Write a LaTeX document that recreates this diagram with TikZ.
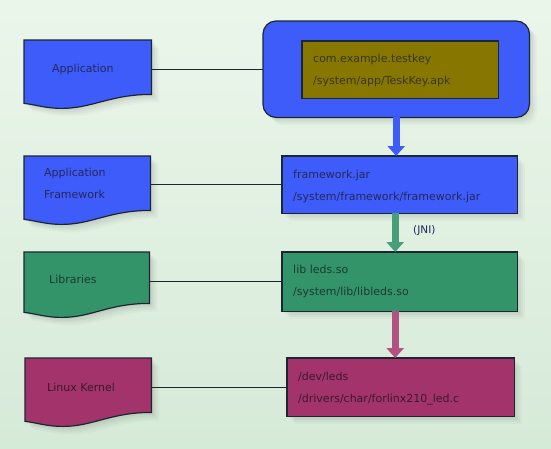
\documentclass[tikz,border=0pt]{standalone}
\usepackage{fontspec}
\setmainfont{DejaVu Sans}
\usetikzlibrary{arrows.meta,calc}
\pgfdeclarelayer{back}
\pgfdeclarelayer{shapes}
\pgfsetlayers{back,shapes,main}
\definecolor{bgA}{HTML}{EBF6EA}
\definecolor{bgB}{HTML}{D6EAD8}
\definecolor{cblue}{HTML}{3D5CFA}
\definecolor{colive}{HTML}{877700}
\definecolor{cgreen}{HTML}{33946A}
\definecolor{cmag}{HTML}{A3336B}
\definecolor{cedge}{HTML}{1C2630}
\definecolor{tblue}{HTML}{26285A}
\definecolor{tolive}{HTML}{3A3520}
\definecolor{tgreen}{HTML}{1E3A2C}
\definecolor{tmag}{HTML}{3A1A2E}
\tikzset{
  geo/.style={rectangle, inner sep=0pt, anchor=north west},
  shad/.style={
    preaction={fill=black, fill opacity=0.035, transform canvas={xshift=2pt, yshift=-2pt}},
    preaction={fill=black, fill opacity=0.035, transform canvas={xshift=4pt, yshift=-4pt}},
    preaction={fill=black, fill opacity=0.03, transform canvas={xshift=6pt, yshift=-6pt}},
    preaction={fill=black, fill opacity=0.025, transform canvas={xshift=8pt, yshift=-8pt}}},
  boxfill/.style={shad, draw=cedge, line width=1.2pt},
  lbl/.style={anchor=west, align=left, inner sep=0pt, font=\fontsize{11}{22}\selectfont},
  link/.style={draw=cedge, line width=1.3pt},
  flow/.style={line width=7pt, -{Triangle[width=17pt,length=10pt]}}
}
\newcommand\docshape[2]{%
  \fill[#2, boxfill] (#1.north west) -- (#1.north east) -- (#1.south east)
    .. controls ($(#1.south east)+(-41,0)$) and ($(#1.south west)+(68,14)$) .. ($(#1.south west)+(38,14)$)
    .. controls ($(#1.south west)+(21,14)$) and ($(#1.south west)+(11,10)$) .. ($(#1.south west)+(0,9)$) -- cycle;}
\begin{document}
\begin{tikzpicture}[x=1pt,y=-1pt]
\begin{pgfonlayer}{back}
\shade[top color=bgA, bottom color=bgB] (0,0) rectangle (551,448);
\end{pgfonlayer}
\useasboundingbox (0,0) rectangle (551,448);

% left document shapes (geometry)
\node[geo, minimum width=127pt, minimum height=54pt] (appdoc) at (24,40) {};
\node[geo, minimum width=126pt, minimum height=54pt] (afdoc) at (24,156) {};
\node[geo, minimum width=125pt, minimum height=51pt] (libdoc) at (24,252) {};
\node[geo, minimum width=126pt, minimum height=54pt] (kdoc) at (25,358) {};

% right boxes
\node[geo, minimum width=266pt, minimum height=96pt] (apprbox) at (263,21) {};
\node[geo, minimum width=196pt, minimum height=57pt] (apkbox) at (302,41) {};
\node[geo, minimum width=235pt, minimum height=57pt] (fwbox) at (282,156) {};
\node[geo, minimum width=235pt, minimum height=59pt] (libbox) at (282,252) {};
\node[geo, minimum width=227pt, minimum height=58pt] (kbox) at (287,358) {};

\begin{pgfonlayer}{shapes}
\docshape{appdoc}{cblue}
\docshape{afdoc}{cblue}
\docshape{libdoc}{cgreen}
\docshape{kdoc}{cmag}
\fill[cblue, boxfill, rounded corners=13pt] (apprbox.north west) rectangle (apprbox.south east);
\fill[colive, draw=cedge, line width=1.2pt] (apkbox.north west) rectangle (apkbox.south east);
\fill[cblue, boxfill] (fwbox.north west) rectangle (fwbox.south east);
\fill[cgreen, boxfill] (libbox.north west) rectangle (libbox.south east);
\fill[cmag, boxfill] (kbox.north west) rectangle (kbox.south east);
\end{pgfonlayer}

% labels
\node[lbl, text=tblue] (tapp) at (52,69) {Application};
\node[lbl, text=tblue] (taf) at (44,183.5) {Application\\Framework};
\node[lbl, text=tgreen] (tlib) at (49,279) {Libraries};
\node[lbl, text=tmag] (tk) at (47,387) {Linux Kernel};
\node[lbl, text=tolive] (tapk) at (313,70) {com.example.testkey\\/system/app/TeskKey.apk};
\node[lbl, text=tblue] (tfw) at (293,186) {framework.jar\\/system/framework/framework.jar};
\node[lbl, text=tgreen] (tlibs) at (293,281.5) {lib leds.so\\/system/lib/libleds.so};
\node[lbl, text=tmag] (tks) at (298,388.5) {/dev/leds\\/drivers/char/forlinx210\_led.c};
\node[lbl, text=tblue, font=\fontsize{10.5}{12}\selectfont] (jni) at (413,231) {(JNI)};

% connectors
\coordinate (c1) at ($(appdoc.east)+(0,2)$);
\coordinate (c2) at ($(afdoc.east)+(0,1)$);
\coordinate (c3) at ($(libdoc.east)+(0,4)$);
\coordinate (c4) at ($(kdoc.east)+(0,2)$);
\draw[link] (c1) -- (c1 -| apprbox.west);
\draw[link] (c2) -- (c2 -| fwbox.west);
\draw[link] (c3) -- (c3 -| libbox.west);
\draw[link] (c4) -- (c4 -| kbox.west);

\coordinate (a1) at ($(fwbox.south -| apprbox.south)+(-1,0)$);
\coordinate (a2) at ($(libbox.north -| apprbox.south)+(-1,0)$);
\coordinate (a3) at ($(libbox.south -| apprbox.south)+(-1,0)$);
\coordinate (a4) at ($(kbox.north -| apprbox.south)+(-1,0)$);
\draw[flow, cblue] (apprbox.south) -- (apprbox.south |- fwbox.north);
\draw[flow, cgreen!90!white] (a1) -- (a2);
\draw[flow, cmag!85!white] (a3) -- (a4);
\end{tikzpicture}
\end{document}
